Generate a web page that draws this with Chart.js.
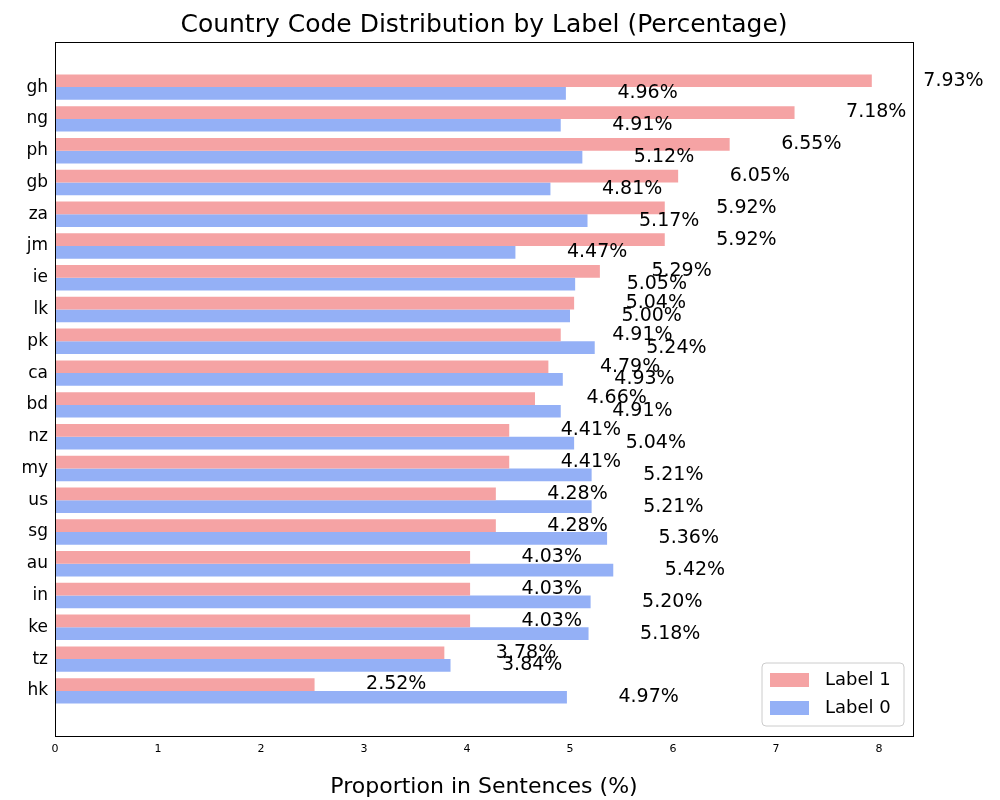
<!DOCTYPE html>
<html>
<head>
<meta charset="utf-8">
<script src="https://cdn.jsdelivr.net/npm/chart.js@4"></script>
<style>body{margin:0;background:#fff}</style>
</head>
<body>
<canvas id="c" width="1000" height="800"></canvas>
<script>
const codes = ['gh','ng','ph','gb','za','jm','ie','lk','pk','ca','bd','nz','my','us','sg','au','in','ke','tz','hk'];
const label1 = [7.93,7.18,6.55,6.05,5.92,5.92,5.29,5.04,4.91,4.79,4.66,4.41,4.41,4.28,4.28,4.03,4.03,4.03,3.78,2.52];
const label0 = [4.96,4.91,5.12,4.81,5.17,4.47,5.05,5.00,5.24,4.93,4.91,5.04,5.21,5.21,5.36,5.42,5.20,5.18,3.84,4.97];
const xTicks = [0,1,2,3,4,5,6,7,8];
const c1 = 'rgb(245,163,164)', c0 = 'rgb(148,176,246)';
const FONT = 'DejaVu Sans';

const extras = {
  id: 'extras',
  afterDatasetsDraw(chart) {
    const ctx = chart.ctx, a = chart.chartArea, xs = chart.scales.x;
    ctx.save();
    ctx.strokeStyle = '#000'; ctx.lineWidth = 1;
    ctx.strokeRect(a.left + 0.5, a.top + 0.5, a.right - a.left, a.bottom - a.top);
    ctx.fillStyle = '#000';
    ctx.font = '19px ' + FONT;
    ctx.textBaseline = 'middle'; ctx.textAlign = 'left';
    chart.data.datasets.forEach((ds, di) => {
      chart.getDatasetMeta(di).data.forEach((bar, i) => {
        const v = ds.data[i].x;
        ctx.fillText(v.toFixed(2) + '%', xs.getPixelForValue(v + 0.5), bar.y);
      });
    });
    // title
    ctx.textAlign = 'center';
    ctx.font = '25px ' + FONT;
    ctx.fillText('Country Code Distribution by Label (Percentage)', (a.left + a.right) / 2, 25);
    // legend
    const lx = a.right - 151, ly = a.bottom - 73;
    ctx.strokeStyle = '#ccc'; ctx.fillStyle = '#fff';
    ctx.beginPath(); ctx.roundRect(lx, ly, 142, 63, 4); ctx.fill(); ctx.stroke();
    ctx.font = '18px ' + FONT; ctx.textAlign = 'left';
    [[c1, 'Label 1'], [c0, 'Label 0']].forEach(([col, t], k) => {
      const y = ly + 17 + k * 28;
      ctx.fillStyle = col; ctx.fillRect(lx + 8, y - 7, 39, 14);
      ctx.fillStyle = '#000'; ctx.fillText(t, lx + 63, y);
    });
    ctx.restore();
  }
};

new Chart(document.getElementById('c'), {
  type: 'bar',
  data: {
    datasets: [
      { label: 'Label 1', data: codes.map((c, i) => ({ y: i, x: label1[i] })), backgroundColor: c1 },
      { label: 'Label 0', data: codes.map((c, i) => ({ y: i, x: label0[i] })), backgroundColor: c0 }
    ]
  },
  options: {
    responsive: false,
    animation: false,
    indexAxis: 'y',
    categoryPercentage: 0.8,
    barPercentage: 1,
    layout: { padding: { top: 42, right: 87, left: 0, bottom: 0 } },
    plugins: { legend: { display: false }, tooltip: { enabled: false } },
    scales: {
      x: {
        type: 'linear', min: 0, max: 8.33,
        grid: { display: false, tickLength: 4 },
        border: { display: false },
        afterBuildTicks: s => { s.ticks = xTicks.map(v => ({ value: v })); },
        ticks: { color: '#000', font: { family: FONT, size: 11 } },
        title: { display: true, text: 'Proportion in Sentences (%)', color: '#000',
          font: { family: FONT, size: 22 }, padding: { top: 2, bottom: 0 } },
        afterFit: s => { s.height = 64; }
      },
      y: {
        type: 'linear', reverse: true, min: -1.42, max: 20.42, offset: false,
        grid: { display: false, tickLength: 4, offset: false },
        border: { display: false },
        afterBuildTicks: s => { s.ticks = codes.map((c, i) => ({ value: i })); },
        ticks: { color: '#000', font: { family: FONT, size: 17 }, callback: v => codes[v] || '' },
        afterFit: s => { s.width = 55; }
      }
    }
  },
  plugins: [extras]
});
</script>
</body>
</html>
